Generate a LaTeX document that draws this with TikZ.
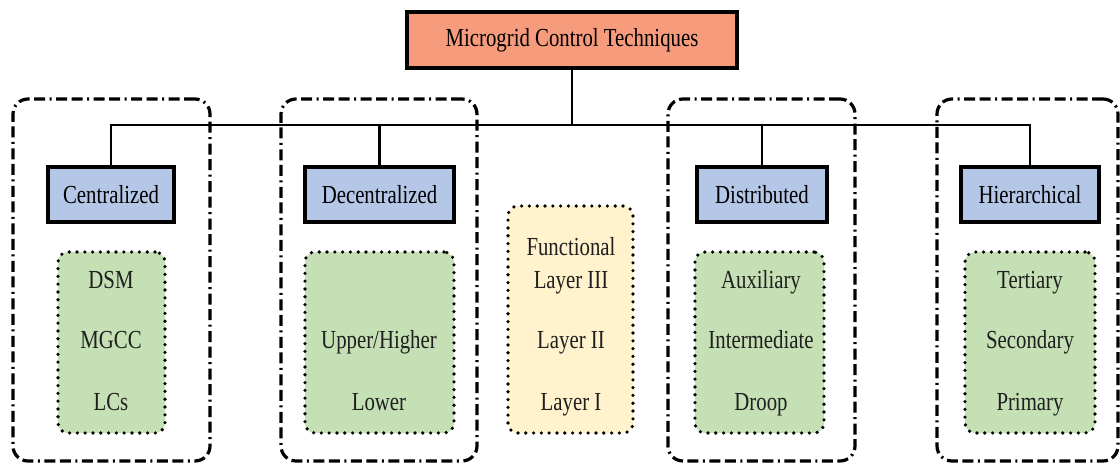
\documentclass[tikz,border=0pt]{standalone}
\usepackage{fontspec}
\setmainfont{Liberation Serif}[FakeStretch=0.8]
\definecolor{rootfill}{HTML}{F79B7D}
\definecolor{catfill}{HTML}{B4C7E7}
\definecolor{itemfill}{HTML}{C5E0B4}
\definecolor{layerfill}{HTML}{FFF2CC}
\begin{document}
\begin{tikzpicture}[x=1pt,y=-1pt,
  every node/.style={font=\fontsize{26}{30}\selectfont, inner sep=0pt, outer sep=0pt},
  rootbox/.style={draw, line width=3.4pt, fill=rootfill, rectangle},
  catbox/.style={draw, line width=3.2pt, fill=catfill, rectangle},
  groupbox/.style={draw, line width=3.2pt, rounded corners=15pt, rectangle,
    dash pattern=on 11pt off 4.5pt on 11pt off 4.5pt on 2pt off 4.5pt},
  itembox/.style={draw, line width=3.6pt, fill=itemfill, rounded corners=10pt, rectangle,
    line cap=round, dash pattern=on 0pt off 7.8pt},
  layerbox/.style={itembox, fill=layerfill},
  lbl/.style={anchor=base, text=black!88},
  conn/.style={line width=2.8pt}]
\useasboundingbox (0,0) rectangle (1120,465);

% dash-dot group frames
\node[groupbox, minimum width=197pt, minimum height=362pt] (g1) at (111.5,280) {};
\node[groupbox, minimum width=196pt, minimum height=362pt] (g2) at (379,280) {};
\node[groupbox, minimum width=187pt, minimum height=362pt] (g3) at (761.5,280) {};
\node[groupbox, minimum width=181pt, minimum height=362pt] (g4) at (1027.5,280) {};

% root and category boxes
\node[rootbox, minimum width=330pt, minimum height=56pt] (root) at (572,40) {Microgrid Control Techniques};
\node[catbox, minimum width=126pt, minimum height=55pt] (cen) at (111,194.5) {Centralized};
\node[catbox, minimum width=149pt, minimum height=55pt] (dec) at (379.5,194.5) {Decentralized};
\node[catbox, minimum width=130pt, minimum height=55pt] (dis) at (762,194.5) {Distributed};
\node[catbox, minimum width=138pt, minimum height=55pt] (hie) at (1030,194.5) {Hierarchical};

% connectors
\coordinate (bus) at (572,125);
\draw[conn] (root.south) -- (root.south |- bus);
\draw[conn] (cen.north) -- (cen.north |- bus) -- (hie.north |- bus) -- (hie.north);
\draw[conn] (dec.north) -- (dec.north |- bus);
\draw[conn] (dis.north) -- (dis.north |- bus);

% dotted item boxes
\node[itembox, minimum width=107pt, minimum height=181pt] (i1) at (111.5,342.5) {};
\node[itembox, minimum width=149pt, minimum height=181pt] (i2) at (379.5,342.5) {};
\node[layerbox, minimum width=125pt, minimum height=227pt] (lay) at (570.5,319.5) {};
\node[itembox, minimum width=129pt, minimum height=181pt] (i3) at (759.5,342.5) {};
\node[itembox, minimum width=130pt, minimum height=181pt] (i4) at (1030,342.5) {};

% item labels
\node[lbl] (t11) at (111,288.5) {DSM};
\node[lbl] (t12) at (111,348.5) {MGCC};
\node[lbl] (t13) at (111,410.5) {LCs};
\node[lbl] (t21) at (379,348.5) {Upper/Higher};
\node[lbl] (t22) at (379,410.5) {Lower};
\node[lbl] (t31) at (571,255.5) {Functional};
\node[lbl] (t32) at (571,288.5) {Layer III};
\node[lbl] (t33) at (571,348.5) {Layer II};
\node[lbl] (t34) at (571,410.5) {Layer I};
\node[lbl] (t41) at (761,288.5) {Auxiliary};
\node[lbl] (t42) at (761,348.5) {Intermediate};
\node[lbl] (t43) at (761,410.5) {Droop};
\node[lbl] (t51) at (1030,288.5) {Tertiary};
\node[lbl] (t52) at (1030,348.5) {Secondary};
\node[lbl] (t53) at (1030,410.5) {Primary};
\end{tikzpicture}
\end{document}
